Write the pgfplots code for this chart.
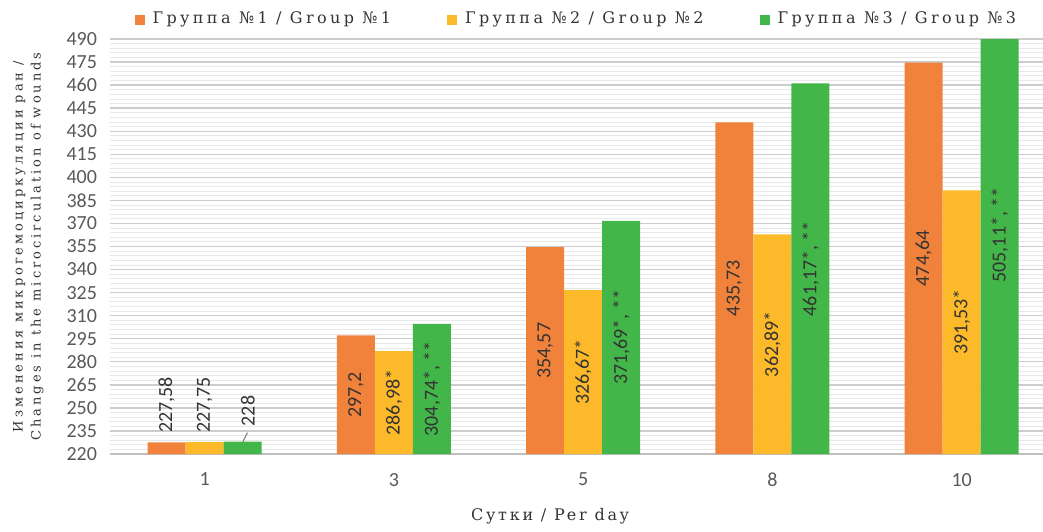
\documentclass[border=0pt]{standalone}
\usepackage{pgfplots}
\pgfplotsset{compat=1.18}
\usepackage{pgfplotstable}
\usepackage{fontspec}
\setmainfont{DejaVu Serif}[LetterSpace=17]
\newfontfamily\legfont{DejaVu Serif}[LetterSpace=21]
\newfontfamily\ylabfont{DejaVu Serif}[LetterSpace=23]
\newfontfamily\calibri{Carlito}

% === PARÁMETROS ===
\definecolor{colG1}{HTML}{F0823B}
\definecolor{colG2}{HTML}{FCBA2B}
\definecolor{colG3}{HTML}{43B649}
\definecolor{colTxt}{HTML}{333333}

% === DATOS === (up: etiqueta sobre la barra, en unidades del eje; dx: desplazamiento)
\pgfplotstableread[col sep=semicolon, row sep=\\]{
x;y;lab;up;dx\\
0;227.58;227,58;24.3;0\\
1;297.2;297,2;0;0\\
2;354.57;354,57;0;0\\
3;435.73;435,73;0;0\\
4;474.64;474,64;0;0\\
}\gA
\pgfplotstableread[col sep=semicolon, row sep=\\]{
x;y;lab;up;dx\\
0;227.75;227,75;24.2;0\\
1;286.98;286,98*;0;0\\
2;326.67;326,67*;0;0\\
3;362.89;362,89*;0;0\\
4;391.53;391,53*;0;0\\
}\gB
\pgfplotstableread[col sep=semicolon, row sep=\\]{
x;y;lab;up;dx\\
0;228;228;20;0.027\\
1;304.74;304,74*, **;0;0\\
2;371.69;371,69*, **;0;0\\
3;461.17;461,17*, **;0;0\\
4;505.11;505,11*, **;0;0\\
}\gC

\pgfplotsset{
    barra/.style={ybar, bar width=19pt, bar shift=#1, draw=none},
    etiqueta/.style={
        draw=none, mark=none, forget plot,
        nodes near coords={\pgfplotspointmeta},
        point meta=explicit symbolic,
        every node near coord/.append style={
            rotate=90, anchor=center, inner sep=0pt, text=colTxt,
            font=\calibri\fontsize{10}{12}\selectfont},
    }
}
% posición de la etiqueta: centro de la barra, o sobre ella si up>0
\newcommand{\labx}[1]{\thisrow{x}+#1+\thisrow{dx}}
\newcommand{\laby}{\thisrow{up}>0 ? \thisrow{y}+\thisrow{up} : (\thisrow{y}+220)/2}

\begin{document}
\begin{tikzpicture}
\useasboundingbox (-55pt,-38.5pt) rectangle (466.5pt,227pt);
\begin{axis}[
    at={(0,0)}, anchor=south west,
    scale only axis,
    width=466.5pt, height=207.5pt,
    xmin=-0.5, xmax=4.43,
    ymin=220, ymax=490,
    ytick={220,235,...,490},
    minor y tick num=4,
    xtick={0,1,2,3,4},
    xticklabels={1,3,5,8,10},
    ymajorgrids, yminorgrids,
    major grid style={draw=black!20, line width=0.7pt},
    minor grid style={draw=black!9, line width=0.4pt},
    axis lines*=left,
    y axis line style={draw=none},
    x axis line style={draw=black!25, line width=0.7pt},
    major tick length=0pt, minor tick length=0pt,
    /pgf/number format/assume math mode=true,
    tick label style={font=\calibri\fontsize{10}{12}\selectfont, text=black!65},
    yticklabel style={xshift=-3pt},
    xticklabel style={yshift=-6pt},
    xlabel={Сутки / Per day},
    xlabel style={at={(axis description cs:0.4716,0)}, anchor=center, yshift=-31pt,
        font=\fontsize{8}{10}\selectfont, text=colTxt},
    ylabel={Изменения микрогемоциркуляции ран /\\Changes in the microcirculation of wounds},
    ylabel style={at={(axis description cs:-0.0875,0.5)}, anchor=center, align=center,
        font=\ylabfont\fontsize{6.5}{9}\selectfont, text=colTxt},
    legend columns=3,
    legend style={at={(axis description cs:0.026,1.047)}, anchor=west,
        draw=none, fill=none, inner sep=0pt,
        font=\legfont\fontsize{8}{10}\selectfont, text=colTxt,
        /tikz/every odd column/.append style={column sep=2pt},
        /tikz/column 2/.style={column sep=26pt},
        /tikz/column 4/.style={column sep=26pt}},
    legend image code/.code={\fill[#1] (0pt,-2.5pt) rectangle (5pt,2.5pt);},
]
\addplot[barra=-19pt, fill=colG1] table[x=x, y=y]{\gA};
\addlegendentry{Группа №1 / Group №1}
\addplot[barra=0pt, fill=colG2] table[x=x, y=y]{\gB};
\addlegendentry{Группа №2 / Group №2}
\addplot[barra=19pt, fill=colG3] table[x=x, y=y]{\gC};
\addlegendentry{Группа №3 / Group №3}

% etiquetas de datos
\addplot[etiqueta] table[x expr={\labx{-0.2011}}, y expr={\laby}, meta=lab]{\gA};
\addplot[etiqueta] table[x expr={\labx{0}}, y expr={\laby}, meta=lab]{\gB};
\addplot[etiqueta] table[x expr={\labx{0.2011}}, y expr={\laby}, meta=lab]{\gC};
% linea guia de la etiqueta 228
\draw[black!55, line width=0.5pt] (axis cs:0.202,228) -- (axis cs:0.226,233.9);
\end{axis}
\end{tikzpicture}
\end{document}
